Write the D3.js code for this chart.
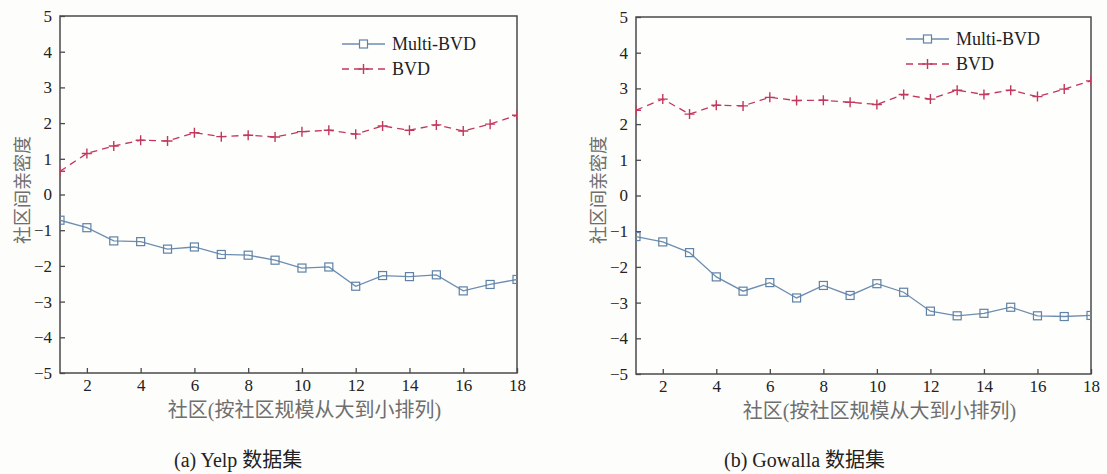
<!DOCTYPE html>
<html lang="zh">
<head>
<meta charset="utf-8">
<title>社区间亲密度</title>
<script src="https://cdn.jsdelivr.net/npm/d3@7"></script>
<style>
  body { margin: 0; background: #fdfdfb; }
</style>
</head>
<body>
<script>
// community index (sorted by size, large -> small)
var communities = [1,2,3,4,5,6,7,8,9,10,11,12,13,14,15,16,17,18];

var yelpMulti = [-0.72,-0.93,-1.30,-1.32,-1.53,-1.47,-1.68,-1.70,-1.84,-2.06,-2.03,-2.57,-2.27,-2.30,-2.25,-2.70,-2.52,-2.38];
var yelpBVD   = [0.65,1.15,1.36,1.52,1.50,1.73,1.62,1.66,1.61,1.76,1.80,1.69,1.92,1.80,1.95,1.78,1.97,2.22];

var gowallaMulti = [-1.15,-1.30,-1.60,-2.28,-2.68,-2.44,-2.87,-2.52,-2.80,-2.47,-2.71,-3.24,-3.37,-3.30,-3.13,-3.37,-3.39,-3.36];
var gowallaBVD   = [2.39,2.70,2.28,2.53,2.51,2.75,2.66,2.67,2.61,2.55,2.83,2.70,2.95,2.83,2.95,2.77,2.98,3.21];

var xTicks = [2,4,6,8,10,12,14,16,18];
var yTicks = [-5,-4,-3,-2,-1,0,1,2,3,4,5];

var seriesNames = ["Multi-BVD", "BVD"];
var yLabel = "社区间亲密度";
var xLabel = "社区(按社区规模从大到小排列)";
var captions = ["(a) Yelp 数据集", "(b) Gowalla 数据集"];

var W = 1107, H = 474;
var FONT = '"Liberation Serif", "Noto Sans CJK SC", serif';
var blue = "#6d8db0", red = "#c2385c", axisCol = "#4a4a4a", labelCol = "#6e6e6e";

var svg = d3.select("body").append("svg").attr("width", W).attr("height", H);

var panels = [
  {x0: 60, x1: 517, y0: 16, y1: 373, multi: yelpMulti, bvd: yelpBVD, cap: captions[0], capX: 174, legX: -175, legY: 44, yl: 23},
  {x0: 636, x1: 1091, y0: 17, y1: 374, multi: gowallaMulti, bvd: gowallaBVD, cap: captions[1], capX: 724, legX: -185, legY: 39, yl: 599}
];

panels.forEach(function(p, i){
  var x = d3.scaleLinear().domain([1, 18]).range([p.x0, p.x1]);
  var y = d3.scaleLinear().domain([-5, 5]).range([p.y1, p.y0]);
  var g = svg.append("g");

  var clipId = "clip" + i;
  svg.append("clipPath").attr("id", clipId).append("rect")
    .attr("x", p.x0).attr("y", p.y0).attr("width", p.x1 - p.x0).attr("height", p.y1 - p.y0);

  g.append("rect").attr("x", p.x0).attr("y", p.y0).attr("width", p.x1 - p.x0).attr("height", p.y1 - p.y0)
    .attr("fill", "#fefefd");

  var ya = g.append("g").attr("transform", "translate(" + p.x0 + ",0)")
    .call(d3.axisLeft(y).tickValues(yTicks).tickSize(-5).tickPadding(8).tickFormat(d3.format("d")));
  var xa = g.append("g").attr("transform", "translate(0," + p.y1 + ")")
    .call(d3.axisBottom(x).tickValues(xTicks).tickSize(-5).tickPadding(6));
  [ya, xa].forEach(function(a){
    a.select(".domain").remove();
    a.attr("font-family", FONT).attr("font-size", 17);
    a.selectAll("line").attr("stroke", axisCol).attr("stroke-width", 1.3);
    a.selectAll("text").attr("fill", "#222");
  });

  g.append("rect").attr("x", p.x0).attr("y", p.y0).attr("width", p.x1 - p.x0).attr("height", p.y1 - p.y0)
    .attr("fill", "none").attr("stroke", axisCol).attr("stroke-width", 1.5);

  var line = d3.line().x(function(d, k){ return x(communities[k]); }).y(function(d){ return y(d); });
  var plot = g.append("g").attr("clip-path", "url(#" + clipId + ")");

  plot.append("path").datum(p.multi).attr("d", line)
    .attr("fill", "none").attr("stroke", blue).attr("stroke-width", 1.3);
  plot.append("path").datum(p.bvd).attr("d", line)
    .attr("fill", "none").attr("stroke", red).attr("stroke-width", 1.3).attr("stroke-dasharray", "7,5");

  plot.selectAll(".sq").data(p.multi).enter().append("rect")
    .attr("x", function(d, k){ return x(communities[k]) - 4; })
    .attr("y", function(d){ return y(d) - 4; })
    .attr("width", 8).attr("height", 8)
    .attr("fill", "none").attr("stroke", "#5f82a6").attr("stroke-width", 1.2);

  plot.selectAll(".pl").data(p.bvd).enter().append("path")
    .attr("d", function(d, k){
      var cx = x(communities[k]), cy = y(d);
      return "M" + (cx - 5) + "," + cy + "H" + (cx + 5) + "M" + cx + "," + (cy - 5) + "V" + (cy + 5);
    })
    .attr("stroke", red).attr("stroke-width", 1.4);

  // legend
  var lx = p.x1 + p.legX;
  var lg = g.append("g").attr("font-family", FONT);
  lg.append("line").attr("x1", lx).attr("x2", lx + 43).attr("y1", p.legY).attr("y2", p.legY)
    .attr("stroke", blue).attr("stroke-width", 1.3);
  lg.append("rect").attr("x", lx + 17.5).attr("y", p.legY - 4).attr("width", 8).attr("height", 8)
    .attr("fill", "#fefefd").attr("stroke", "#5f82a6").attr("stroke-width", 1.2);
  lg.append("text").attr("x", lx + 50).attr("y", p.legY + 6).text(seriesNames[0])
    .attr("fill", "#222").attr("font-size", 18);
  var ly2 = p.legY + 25;
  lg.append("line").attr("x1", lx).attr("x2", lx + 43).attr("y1", ly2).attr("y2", ly2)
    .attr("stroke", red).attr("stroke-width", 1.3).attr("stroke-dasharray", "7,5");
  lg.append("path").attr("d", "M" + (lx + 16.5) + "," + ly2 + "H" + (lx + 26.5) + "M" + (lx + 21.5) + "," + (ly2 - 5) + "V" + (ly2 + 5))
    .attr("stroke", red).attr("stroke-width", 1.4);
  lg.append("text").attr("x", lx + 50).attr("y", ly2 + 6).text(seriesNames[1])
    .attr("fill", "#222").attr("font-size", 18);

  // axis titles
  g.append("text").attr("transform", "translate(" + p.yl + ",190) rotate(-90)")
    .attr("dy", "0.35em")
    .attr("text-anchor", "middle").attr("fill", labelCol)
    .attr("font-family", FONT).attr("font-size", 18)
    .text(yLabel);
  g.append("text").attr("x", (p.x0 + p.x1) / 2 + 16).attr("y", p.y1 + 44)
    .attr("text-anchor", "middle").attr("fill", labelCol)
    .attr("font-family", FONT).attr("font-size", 20)
    .text(xLabel);

  g.append("text").attr("x", p.capX).attr("y", 467).attr("fill", "#222")
    .attr("font-family", FONT).attr("font-size", 20)
    .text(p.cap);
});
</script>
</body>
</html>
